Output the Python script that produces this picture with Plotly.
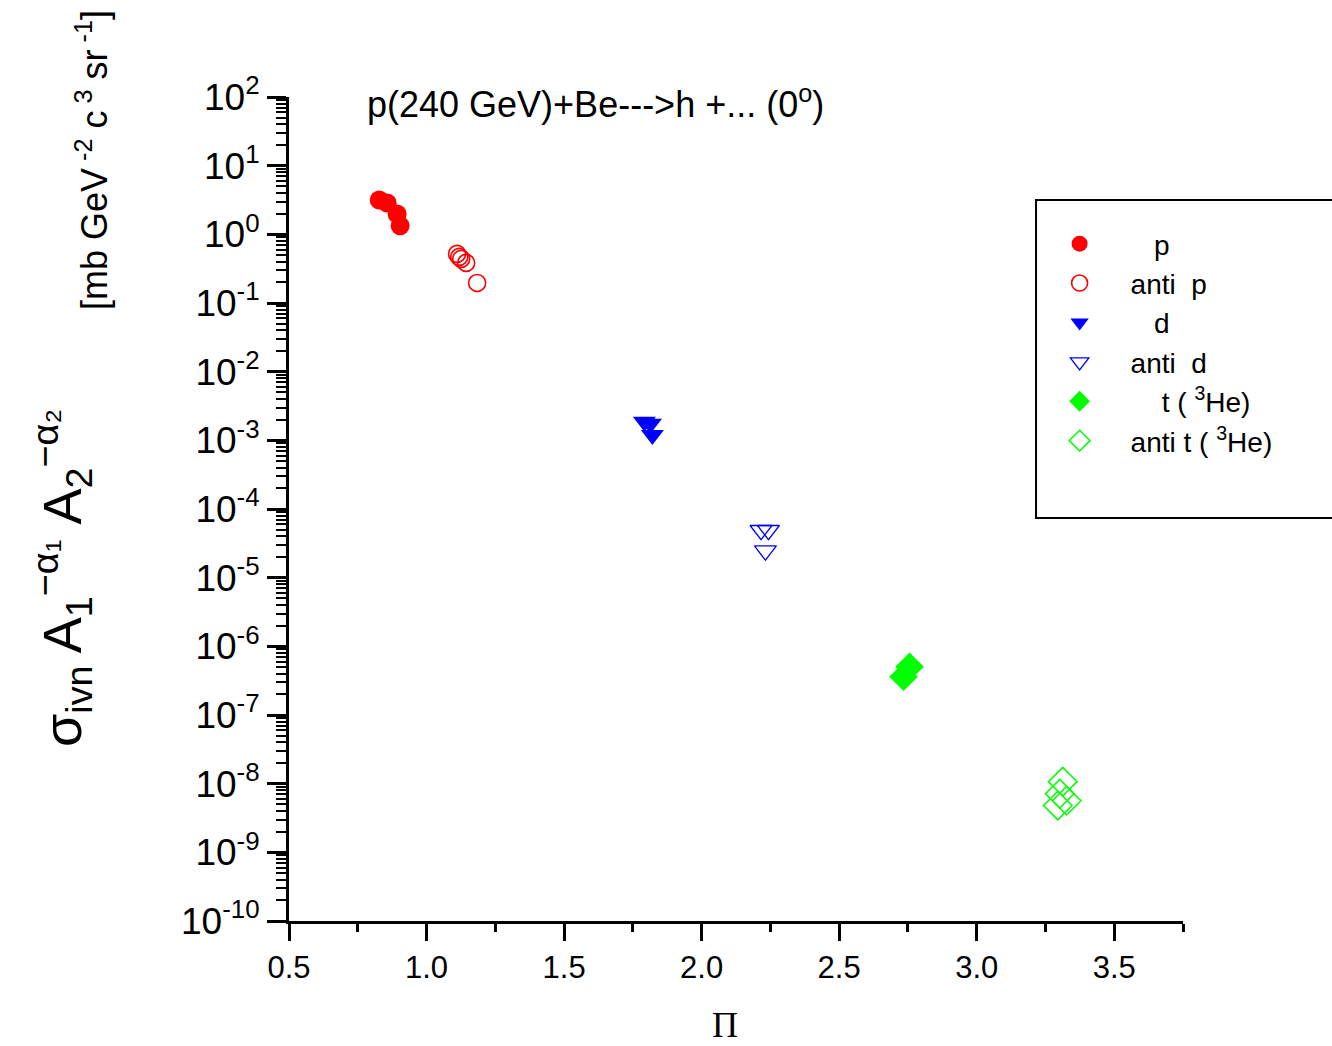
import plotly.graph_objects as go

# ---- data ----
p_x = [0.828, 0.857, 0.893, 0.904]
p_y = [3.17, 2.86, 1.98, 1.33]

ap_x = [1.111, 1.119, 1.126, 1.144, 1.184]
ap_y = [0.519, 0.469, 0.439, 0.384, 0.196]

d_x = [1.792, 1.814, 1.821]
d_y = [1.86e-3, 1.74e-3, 1.2e-3]

ad_x = [2.216, 2.243, 2.232]
ad_y = [4.9e-5, 4.9e-5, 2.47e-5]

t_x = [2.756, 2.734]
t_y = [5.05e-7, 3.6e-7]

at_x = [3.313, 3.302, 3.327, 3.295]
at_y = [1.07e-8, 7.15e-9, 5.65e-9, 4.8e-9]

names = ["\u00a0\u00a0\u00a0p", "anti\u00a0\u00a0p", "\u00a0\u00a0\u00a0d", "anti\u00a0\u00a0d",
         "\u00a0\u00a0\u00a0\u00a0t\u00a0(\u00a0<sup>3</sup>He)", "anti\u00a0t\u00a0(\u00a0<sup>3</sup>He)"]

y_exps = list(range(-10, 3))
x_ticks = [0.5, 1.0, 1.5, 2.0, 2.5, 3.0, 3.5]
x_ticktext = ["0.5", "1.0", "1.5", "2.0", "2.5", "3.0", "3.5"]

RED, BLUE, GREEN = "#FF0000", "#0000FF", "#00FF00"
FONT = "Arial, Liberation Sans, sans-serif"

fig = go.Figure()
fig.add_trace(go.Scatter(x=p_x, y=p_y, mode="markers", name=names[0],
                         marker=dict(symbol="circle", size=19, color=RED, line=dict(width=0))))
fig.add_trace(go.Scatter(x=ap_x, y=ap_y, mode="markers", name=names[1],
                         marker=dict(symbol="circle-open", size=17, color=RED, line=dict(width=1.6, color=RED))))
fig.add_trace(go.Scatter(x=d_x, y=d_y, mode="markers", name=names[2],
                         marker=dict(symbol="triangle-down", size=20, color=BLUE, line=dict(width=0))))
fig.add_trace(go.Scatter(x=ad_x, y=ad_y, mode="markers", name=names[3],
                         marker=dict(symbol="triangle-down-open", size=19, color=BLUE, line=dict(width=1.3, color=BLUE))))
fig.add_trace(go.Scatter(x=t_x, y=t_y, mode="markers", name=names[4],
                         marker=dict(symbol="diamond", size=22, color=GREEN, line=dict(width=0))))
fig.add_trace(go.Scatter(x=at_x, y=at_y, mode="markers", name=names[5],
                         marker=dict(symbol="diamond-open", size=22, color=GREEN, line=dict(width=1.5, color=GREEN))))

fig.update_layout(
    width=1332, height=1046,
    margin=dict(l=289, r=149, t=97, b=125),
    paper_bgcolor="white", plot_bgcolor="white",
    font=dict(family=FONT, color="black"),
    showlegend=True,
    legend=dict(x=0.8273, y=0.852, xanchor="left", yanchor="top",
                font=dict(size=28, family=FONT), bgcolor="rgba(0,0,0,0)",
                borderwidth=0, itemwidth=92, tracegroupgap=0),
    xaxis=dict(range=[0.5, 3.75], showgrid=False, zeroline=False,
               showline=True, linecolor="black", linewidth=3,
               ticks="outside", ticklen=17, tickwidth=3, tickcolor="black",
               tickvals=x_ticks, ticktext=x_ticktext,
               tickfont=dict(size=31, family=FONT),
               minor=dict(ticks="outside", ticklen=8, tickwidth=3, tickcolor="black", dtick=0.25, tick0=0.5)),
    yaxis=dict(type="log", range=[-10, 2], showgrid=False, zeroline=False,
               showline=True, linecolor="black", linewidth=3,
               ticks="outside", ticklen=19, tickwidth=3, tickcolor="black",
               tickvals=[10.0 ** e for e in y_exps],
               ticktext=[f"10<sup>{e}</sup>" for e in y_exps],
               tickfont=dict(size=37, family=FONT),
               minor=dict(ticks="outside", ticklen=10, tickwidth=2, tickcolor="black", dtick="D1")),
)

# legend frame (extends past right edge like the reference)
fig.add_shape(type="rect", xref="paper", yref="paper",
              x0=0.8356, x1=1.18, y0=0.489, y1=0.875,
              line=dict(color="black", width=2), fillcolor="rgba(0,0,0,0)")

fig.add_annotation(text="p(240 GeV)+Be--->h +... (0<sup>o</sup>)", xref="paper", yref="paper",
                   x=(365 - 289) / 894, y=(921 - 102) / 824, xanchor="left", yanchor="middle",
                   showarrow=False, font=dict(size=36, family=FONT))

fig.add_annotation(text="\u03a0", xref="paper", yref="paper",
                   x=(725 - 289) / 894, y=(921 - 1025) / 824, xanchor="center", yanchor="middle",
                   showarrow=False, font=dict(size=36, family="Liberation Serif, Times New Roman, serif"))

fig.add_annotation(text="[mb GeV<sup> -2</sup> c<sup> 3</sup> sr<sup> -1</sup>]", xref="paper", yref="paper",
                   x=(92 - 289) / 894, y=(921 - 160) / 824, xanchor="center", yanchor="middle",
                   textangle=-90, showarrow=False, font=dict(size=36, family=FONT))

fig.add_annotation(text="\u03c3<sub>ivn</sub> A<sub>1</sub><sup>\u2212\u03b1\u2081</sup> A<sub>2</sub><sup>\u2212\u03b1\u2082</sup>",
                   xref="paper", yref="paper",
                   x=(62 - 289) / 894, y=(921 - 578) / 824, xanchor="center", yanchor="middle",
                   textangle=-90, showarrow=False, font=dict(size=54, family=FONT))

fig.write_html("out.html")
